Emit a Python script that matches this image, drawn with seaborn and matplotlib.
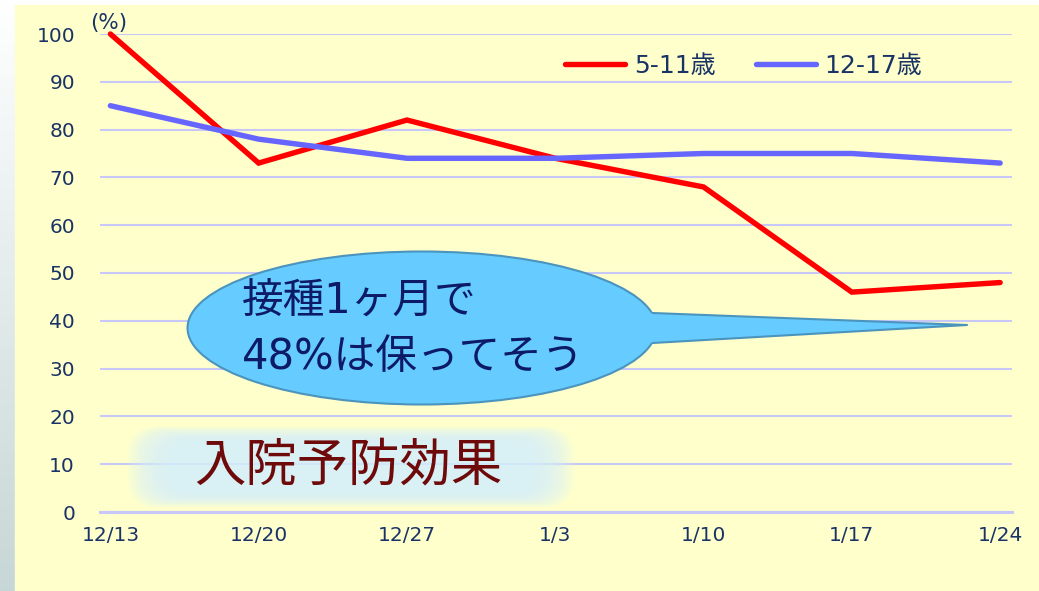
import numpy as np
import pandas as pd
import matplotlib
matplotlib.use("Agg")
import matplotlib.pyplot as plt
import seaborn as sns
from matplotlib.patches import Ellipse, Polygon, FancyBboxPatch, Rectangle
from matplotlib.lines import Line2D

# ---- data ----
dates = ["12/13", "12/20", "12/27", "1/3", "1/10", "1/17", "1/24"]
age_5_11 = [100, 73, 82, 74, 68, 46, 48]
age_12_17 = [85, 78, 74, 74, 75, 75, 73]
series_names = ["5-11歳", "12-17歳"]
y_ticks = [0, 10, 20, 30, 40, 50, 60, 70, 80, 90, 100]

df = pd.DataFrame({
    "date": list(range(len(dates))) * 2,
    "value": age_5_11 + age_12_17,
    "series": [series_names[0]] * len(dates) + [series_names[1]] * len(dates),
})

sns.set_theme(style="white")
plt.rcParams['font.family'] = ['DejaVu Sans', 'Noto Sans CJK JP']

W, H = 1039, 591
fig = plt.figure(figsize=(W / 100, H / 100), dpi=100)
fig.patch.set_facecolor("#FFFFFF")

# background: gray gradient frame + yellow area
bg = fig.add_axes([0, 0, 1, 1], zorder=-10)
grad = np.linspace(0, 1, 200)[:, None]
top = np.array([1.0, 1.0, 1.0])
bot = np.array([0.78, 0.84, 0.84])
cols = top[None, None, :] * (1 - grad[:, :, None]) + bot[None, None, :] * grad[:, :, None]
bg.imshow(cols, aspect="auto", extent=[0, 1, 0, 1], origin="upper")
bg.add_patch(Rectangle((15 / W, 0), 1, 1 - 5 / H, color="#FFFFCC", transform=bg.transAxes))
bg.set_xlim(0, 1); bg.set_ylim(0, 1)
bg.axis("off")

left, right = 100 / W, 1012 / W
bottom, topp = (H - 512) / H, (H - 34) / H
ax = fig.add_axes([left, bottom, right - left, topp - bottom])
ax.set_facecolor("none")

palette = {series_names[0]: "#FF0000", series_names[1]: "#6666FF"}
sns.lineplot(data=df, x="date", y="value", hue="series", palette=palette,
             linewidth=3.9, ax=ax, clip_on=False, legend=True)
for ln in ax.lines:
    ln.set_solid_capstyle("round")
    ln.set_solid_joinstyle("miter")

ax.set_xlim(-0.07, 6.08)
ax.set_ylim(0, 100)
ax.set_yticks(y_ticks)
ax.set_xticks(range(len(dates)))
ax.set_xticklabels(dates)
ax.set_xlabel("")
ax.set_ylabel("")
ax.grid(axis="y", color="#C8C8F8", linewidth=1.5)
ax.grid(axis="x", visible=False)
ax.set_axisbelow(True)
for s in ["left", "right", "top"]:
    ax.spines[s].set_visible(False)
ax.spines["bottom"].set_color("#C8C8F8")
ax.spines["bottom"].set_linewidth(2.2)

navy = "#1A3366"
ax.tick_params(axis="y", length=0, pad=18, labelsize=14.5, labelcolor=navy)
ax.tick_params(axis="x", length=0, pad=10, labelsize=14.5, labelcolor=navy)
# tick marks slightly left of categories
ax.set_xticks([i - 0.07 for i in range(len(dates))], minor=True)
ax.tick_params(axis="x", which="minor", length=6, width=1.5, color="#C8C8F8", direction="out")


def px(x):  # pixel x -> data
    return (x - 110) / 148.0
def py(y):  # pixel y -> data
    return (512 - y) / 4.78


ax.text(px(108), py(33), "(%)", color=navy, fontsize=15.5, ha="center", va="bottom")

leg = ax.legend(loc="center", bbox_to_anchor=(0.706, 0.933), ncol=2, frameon=False,
                fontsize=18, handlelength=2.4, columnspacing=1.6, handletextpad=0.35)
for t in leg.get_texts():
    t.set_color(navy)
for h in leg.get_lines():
    h.set_linewidth(3.9)

# callout bubble
fill = "#66CCFF"
edge = "#4A94BE"
ell = Ellipse((px(421), py(328)), 468 / 148.0, 153 / 4.78, facecolor=fill,
              edgecolor=edge, linewidth=1.5, zorder=5)
ax.add_patch(ell)
tail = Polygon([(px(630), py(312)), (px(652), py(313)), (px(965), py(325)),
                (px(652), py(343)), (px(630), py(344))], closed=True,
               facecolor=fill, edgecolor="none", zorder=6)
ax.add_patch(tail)
ax.add_line(Line2D([px(651), px(965), px(651)], [py(313), py(325), py(343)],
                   color=edge, linewidth=1.5, zorder=7))
ax.text(px(241), py(301), "接種1ヶ月で", fontsize=30, color="#0D1A66",
        ha="left", va="center", zorder=8)
ax.text(px(241), py(357), "48%は保ってそう", fontsize=30, color="#0D1A66",
        ha="left", va="center", zorder=8)

# title with soft glow
layers = 14
for i in range(layers):
    f = i / (layers - 1)          # 0 outer -> 1 inner
    padx = 40 * (1 - f)
    pady = 14 * (1 - f)
    x0, x1 = px(175 - padx), px(525 + padx)
    y0, y1 = py(486 + pady), py(448 - pady)
    ax.add_patch(FancyBboxPatch((x0, y0), x1 - x0, y1 - y0,
                                boxstyle="round,pad=0.05,rounding_size=0.2",
                                mutation_aspect=30,
                                facecolor="#D6F0FF", edgecolor="none", alpha=0.13, zorder=3))
ax.text(px(347), py(466), "入院予防効果", fontsize=37, color="#6E0A0A",
        ha="center", va="center", zorder=4, family=["Noto Sans CJK JP"])

fig.savefig("out.png", dpi=100)
